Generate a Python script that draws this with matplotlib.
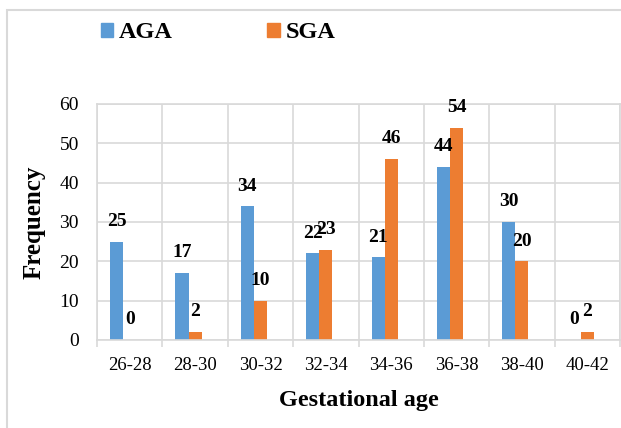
import matplotlib
matplotlib.use("Agg")
import matplotlib.pyplot as plt
import numpy as np
from matplotlib.patches import Rectangle, Patch

# данные
categories = ["26-28", "28-30", "30-32", "32-34", "34-36", "36-38", "38-40", "40-42"]
aga = [25, 17, 34, 22, 21, 44, 30, 0]
sga = [0, 2, 10, 23, 46, 54, 20, 2]

plt.rcParams['font.family'] = ['Liberation Serif', 'DejaVu Serif']

fig = plt.figure(figsize=(6.21, 4.28), dpi=100)
ax = fig.add_axes([97/621, 1-340/428, (620-97)/621, (340-104)/428])

# рамка вокруг всего графика
fig.patches.append(Rectangle((7/621, -0.1), 1.2, 1-10/428+0.1, transform=fig.transFigure,
                             fill=False, edgecolor="#d9d9d9", linewidth=1.5))

x = np.arange(len(categories))
w = 0.2
b1 = ax.bar(x - w, aga, w, color="#5B9BD5", label="AGA")
b2 = ax.bar(x, sga, w, color="#ED7D31", label="SGA")

# подписи значений
for rect, v in list(zip(b1, aga)) + list(zip(b2, sga)):
    ax.annotate(str(v), (rect.get_x() + rect.get_width()/2, v), xytext=(0, 14.5),
                textcoords="offset points", ha="center", va="center",
                fontsize=14, fontweight="bold")

ax.set_xlim(-0.5, 7.5)
ax.set_ylim(0, 60)
ax.set_yticks(range(0, 61, 10))
ax.set_xticks(x)
ax.set_xticklabels(categories)
ax.set_xticks(np.arange(-0.5, 8, 1), minor=True)
ax.tick_params(axis="x", which="major", length=0, pad=12, labelsize=13.5)
ax.tick_params(axis="x", which="minor", length=5, color="#d9d9d9", width=1.2)
ax.tick_params(axis="y", length=0, pad=13, labelsize=14)

ax.grid(True, axis="y", color="#d9d9d9", linewidth=1.2)
ax.grid(True, axis="x", which="minor", color="#d9d9d9", linewidth=1.2)
ax.set_axisbelow(True)
for s in ax.spines.values():
    s.set_color("#d9d9d9")
    s.set_linewidth(1.2)

ax.set_ylabel("Frequency", fontsize=18, fontweight="bold", labelpad=10)
ax.set_xlabel("Gestational age", fontsize=17.5, fontweight="bold", labelpad=12)

handles = [Patch(color="#5B9BD5", label="AGA"), Patch(color="#ED7D31", label="SGA")]
fig.legend(handles=handles, loc="center", bbox_to_anchor=(218/621, 1-33/428), ncol=2,
           frameon=False, prop={"size": 17.5, "weight": "bold"}, handlelength=0.5,
           handleheight=0.5, handletextpad=0.25, columnspacing=3.9)

fig.savefig("out.png", dpi=100)
